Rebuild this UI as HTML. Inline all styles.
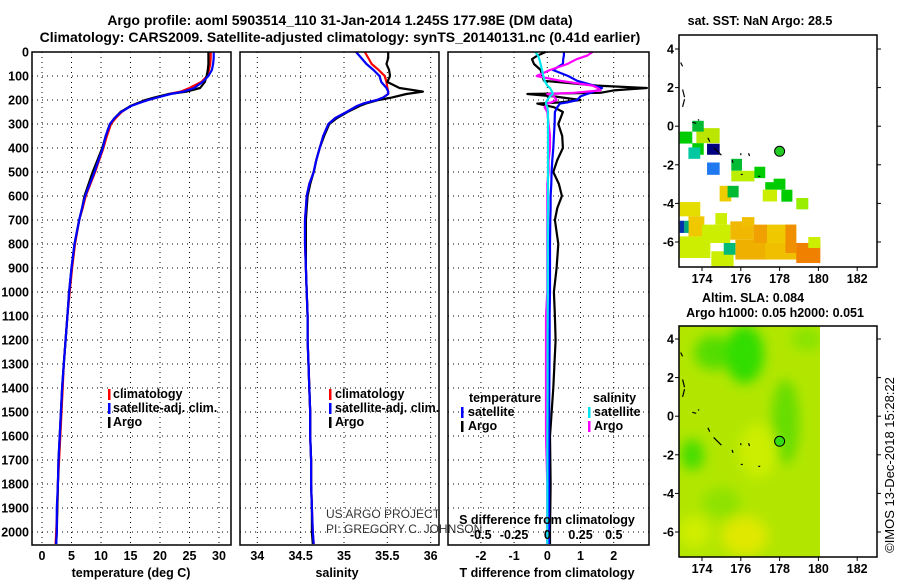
<!DOCTYPE html>
<html><head><meta charset="utf-8"><style>
body{margin:0;background:#fff}
svg{display:block}
text{font-family:"Liberation Sans",sans-serif;fill:#000}
.b{font-weight:bold;font-size:12.5px}
.t{font-weight:bold;font-size:14px}
.n{font-weight:normal}
</style></head><body>
<svg id="fig" width="900" height="580" viewBox="0 0 900 580"></svg>
<script>
// ---- data ----
const depths=[0,25,50,75,100,125,150,165,175,190,200,215,225,250,275,300,350,400,450,500,550,600,650,700,800,900,1000,1100,1200,1300,1400,1500,1600,1700,1800,1900,2000,2050];
const tempArgo=[28.2,28.2,28.2,28.1,27.9,27.6,26.8,24.5,21.5,19,17.5,16,15,13.3,12.3,11.5,10.8,10.2,9.4,8.6,7.9,7.2,6.8,6.3,5.5,5.0,4.6,4.3,4.0,3.7,3.4,3.2,3.0,2.8,2.7,2.6,2.5,2.4];
const tempClim=[28.6,28.6,28.5,28.3,28,27,25,23.5,21.5,19.5,18,16,15,13.5,12.5,11.7,11,10.4,9.7,9,8.2,7.4,6.9,6.3,5.6,5.1,4.7,4.3,4.0,3.7,3.5,3.3,3.1,2.9,2.7,2.6,2.4,2.3];
const tempSat=[29.1,29.1,29.0,28.8,28.2,27.2,25.8,24,21.8,19.5,18,16.2,15.1,13.4,12.3,11.5,10.8,10.3,9.6,8.9,8.1,7.3,6.8,6.3,5.5,5.0,4.6,4.3,4.0,3.7,3.4,3.2,3.0,2.8,2.7,2.5,2.5,2.4];
const salArgo=[35.51,35.51,35.49,35.52,35.53,35.50,35.64,35.91,35.72,35.55,35.40,35.25,35.18,35.04,34.92,34.83,34.77,34.72,34.68,34.65,34.61,34.58,34.57,34.56,34.56,34.56,34.57,34.58,34.58,34.59,34.60,34.61,34.61,34.62,34.62,34.63,34.63,34.64];
const salClim=[35.24,35.28,35.32,35.40,35.47,35.49,35.50,35.51,35.51,35.45,35.38,35.22,35.15,35.03,34.90,34.82,34.76,34.72,34.68,34.65,34.60,34.57,34.56,34.55,34.55,34.56,34.57,34.58,34.58,34.59,34.60,34.61,34.61,34.62,34.62,34.63,34.64,34.65];
const salSat=[35.14,35.20,35.26,35.34,35.41,35.43,35.49,35.51,35.51,35.45,35.38,35.22,35.15,35.03,34.90,34.82,34.76,34.72,34.68,34.65,34.60,34.57,34.56,34.55,34.55,34.56,34.57,34.58,34.58,34.59,34.60,34.61,34.61,34.62,34.62,34.63,34.64,34.65];
const diffDepths=[0,15,30,50,75,100,120,140,150,160,170,175,185,200,210,215,230,250,300,350,400,450,500,550,600,650,700,800,900,1000,1100,1200,1400,1600,1800,2000,2050];
const tDiffArgo=[-0.05,-0.3,-0.46,-0.4,-0.2,-0.15,-0.1,1.5,3.0,2.0,1.6,-0.6,0.2,1.0,0.4,-0.3,0.2,0.47,0.33,0.45,0.47,0.3,0.18,0.35,0.44,0.3,0.23,0.33,0.28,0.2,0.23,0.25,0.18,0.08,0.1,0.08,0.08];
const tDiffSat=[0.5,0.5,0.48,0.47,0.17,0.63,0.9,1.4,1.65,1.5,1.3,1.2,1.0,0.9,0.6,0.38,0.3,0.23,0.22,0.2,0.18,0.15,0.13,0.12,0.1,0.1,0.09,0.08,0.08,0.08,0.07,0.07,0.06,0.05,0.05,0.05,0.05];
const sDiffArgo=[0.34,0.3,0.22,0.15,0.02,-0.08,0.1,0.34,0.38,0.4,0.2,0,0.05,0.07,0.03,0,-0.02,0,0.01,0.02,0.02,0.01,0.01,0,0,0,0,0,0,0,-0.01,-0.01,-0.01,-0.01,0,0,0];
const sDiffSat=[-0.09,-0.07,-0.06,-0.05,-0.04,-0.03,-0.02,0,0.02,0.03,0.04,0.04,0.02,0,-0.01,-0.01,0,0.005,0.005,0.005,0.005,0.005,0.005,0.005,0.005,0.005,0.004,0.004,0.003,0.003,0.003,0.002,0.002,0.001,0.001,0,0];
const depthTicks=[0,100,200,300,400,500,600,700,800,900,1000,1100,1200,1300,1400,1500,1600,1700,1800,1900,2000];
const tempTicks=[0,5,10,15,20,25,30];
const salTicks=[34,34.5,35,35.5,36];
const tDiffTicks=[-2,-1,0,1,2];
const sDiffTicks=[-0.5,-0.25,0,0.25,0.5];
const latTicks=[4,2,0,-2,-4,-6];
const lonTicks=[174,176,178,180,182];
// SST squares [lon1,lat1,lon2,lat2,color]
const sstCells=[
[172.85,-5.71,174.43,-6.83,'#ccee00'],[175.72,-5.88,177.35,-6.91,'#f0b000'],[177.26,-6.05,178.90,-6.91,'#f0c000'],
[174.48,-6.48,175.63,-7.26,'#ccee00'],[175.12,-6.05,175.72,-6.66,'#00bb77'],
[172.85,-0.28,173.50,-0.90,'#00cc00'],[173.71,-0.10,174.91,-0.88,'#bbe600'],[173.50,0.28,174.09,-0.28,'#00bb33'],
[173.50,-0.88,174.09,-1.48,'#00cc00'],[173.30,-1.10,173.91,-1.69,'#00c8a0'],[174.26,-0.91,174.91,-1.48,'#000080'],
[174.26,-1.88,174.91,-2.52,'#1e78f0'],[175.51,-1.69,176.06,-2.31,'#00bb33'],[175.51,-2.31,176.70,-2.86,'#bbee00'],
[176.70,-2.10,177.26,-2.69,'#00cc00'],[177.26,-2.90,177.87,-3.29,'#00cc00'],[177.69,-2.72,178.30,-3.29,'#00cc00'],
[177.13,-3.29,177.87,-3.90,'#ccee00'],[178.09,-3.29,178.66,-3.91,'#00cc00'],[178.86,-3.72,179.48,-4.31,'#99ee00'],
[174.91,-3.09,175.51,-3.90,'#eecc00'],[175.32,-3.09,175.89,-3.69,'#00bb33'],[172.85,-3.93,173.91,-4.67,'#e6dd00'],
[173.30,-4.67,174.12,-5.71,'#f0c800'],[172.85,-4.90,173.09,-5.53,'#0033aa'],[173.09,-4.90,173.31,-5.53,'#00aa77'],
[174.69,-4.50,175.29,-5.10,'#ccee00'],[174.0,-5.10,175.46,-6.05,'#ccee00'],[175.46,-4.93,176.66,-5.88,'#f0b800'],
[176.06,-4.71,176.70,-5.19,'#f0c000'],[176.66,-5.10,177.35,-6.05,'#f0a000'],[177.35,-5.10,178.86,-6.05,'#f0c800'],
[178.30,-5.10,178.86,-6.57,'#f09000'],[178.86,-6.05,180.10,-7.09,'#f08000'],[179.48,-5.74,180.10,-6.31,'#ccee00']];
// SLA blobs [lon,lat,rLon,rLat,color]
const slaBlobs=[[174.6,3.3,1.0,0.9,'#55dd00'],[176.2,3.2,1.0,1.5,'#33dd00'],[178.3,-0.3,0.7,2.2,'#66dd00'],
[173.5,-2.0,0.6,0.8,'#44dd00'],[176.9,-1.8,1.0,1.4,'#ccee00'],[176.2,-6.2,1.2,1.0,'#e0e800'],
[173.6,-6.0,0.8,0.8,'#d0ee00'],[179.4,4.0,0.8,0.6,'#88e400'],[175.0,-4.5,1.0,0.8,'#8fe200']];
// coastline segments [lon1,lat1,lon2,lat2]
const coastSegs=[[172.9,3.3,173.0,3.1],[173.0,1.9,173.1,1.5],[173.1,1.4,173.0,1.0],[173.5,0.2,173.7,0.15],[173.8,0.35,173.85,0.3],
[174.3,-0.6,174.4,-0.8],[174.6,-1.1,175.0,-1.5],[175.55,-1.75,175.6,-1.9],[176.0,-2.5,176.1,-2.5],[176.9,-2.6,177.0,-2.6],[176.0,-1.4,176.0,-1.5],[176.4,-1.4,176.45,-1.55]];

// ---- helpers ----
const NS='http://www.w3.org/2000/svg';const svg=document.getElementById('fig');
function el(tag,attrs,parent){const e=document.createElementNS(NS,tag);for(const k in attrs)e.setAttribute(k,attrs[k]);(parent||svg).appendChild(e);return e;}
function txt(x,y,s,cls,anchor,name){const t=el('text',{x:x,y:y,class:cls||'b','text-anchor':anchor||'middle'});t.textContent=s;

return t;}
const yD=d=>52+d*0.24;
const xT=v=>42+v*5.9;
const xS=v=>257.3+(v-34)*86.7;
const xTD=v=>547.3+v*33.2;
const xSD=v=>547.3+v*133;
function grid(x0,x1,xs,name){
  const g=el('g',{});
  
  
  depthTicks.forEach(d=>el('line',{x1:x0,x2:x1,y1:yD(d),y2:yD(d),stroke:'#000','stroke-width':1,'stroke-dasharray':'1,4'},g));
  xs.forEach(x=>el('line',{x1:x,x2:x,y1:52,y2:545,stroke:'#000','stroke-width':1,'stroke-dasharray':'1,4'},g));
}
function frame(x0,x1,y0,y1,name){const r=el('rect',{x:x0,y:y0,width:x1-x0,height:y1-y0,fill:'none',stroke:'#000','stroke-width':1.5});

}
function line(ds,vals,xf,color,name,w){const p=ds.map((d,i)=>xf(vals[i]).toFixed(1)+','+yD(d).toFixed(1)).join(' ');
const e=el('polyline',{points:p,fill:'none',stroke:color,'stroke-width':w||2.2,'stroke-linejoin':'round'});

}

// titles
txt(340,25,'Argo profile: aoml 5903514_110 31-Jan-2014 1.245S 177.98E (DM data)','t','middle','title-line-1');
txt(340,42,'Climatology: CARS2009. Satellite-adjusted climatology: synTS_20140131.nc (0.41d earlier)','t','middle','title-line-2');

depthTicks.forEach(d=>txt(29,yD(d)+4.5,String(d),'b','end','depth-tick-label'));

// panel 1 temperature
grid(32,231,tempTicks.map(xT),'temperature-grid');
line(depths,tempClim,xT,'#ff0000','temperature-climatology-line');
line(depths,tempArgo,xT,'#000000','temperature-argo-line');
line(depths,tempSat,xT,'#0000ff','temperature-satellite-line');
frame(32,231,52,545,'temperature-panel-frame');
tempTicks.forEach(v=>txt(xT(v),560,String(v),'b','middle','temperature-tick-label'));
txt(131,577,'temperature (deg C)','b','middle','temperature-axis-title');

// panel 2 salinity
grid(240,439,salTicks.map(xS),'salinity-grid');
line(depths,salClim,xS,'#ff0000','salinity-climatology-line');
line(depths,salArgo,xS,'#000000','salinity-argo-line');
line(depths,salSat,xS,'#0000ff','salinity-satellite-line');
frame(240,439,52,545,'salinity-panel-frame');
salTicks.forEach(v=>txt(xS(v),560,String(v),'b','middle','salinity-tick-label'));
txt(337,577,'salinity','b','middle','salinity-axis-title');

[[108,113],[329,335]].forEach(([mx,tx],k)=>{
  [['climatology','#f00'],['satellite-adj. clim.','#00f'],['Argo','#000']].forEach(([s,c],i)=>{
    const y=398+i*14;
    const m=el('rect',{x:mx,y:y-9,width:2.5,height:11,fill:c});
    
    
    txt(tx,y,s,'b','start','legend-entry');
  });
});
const pj=txt(326,518,'US ARGO PROJECT','n','start','project-credit');pj.setAttribute('style','font-size:12px;fill:#333');
const pi=txt(326,533,'PI: GREGORY C. JOHNSON','n','start','pi-credit');pi.setAttribute('style','font-size:12px;fill:#333');

// panel 3 differences
grid(448,649,tDiffTicks.map(xTD),'difference-grid');
line(diffDepths,tDiffArgo,xTD,'#000000','t-difference-argo-line');
line(diffDepths,tDiffSat,xTD,'#0000ff','t-difference-satellite-line');
line(diffDepths,sDiffArgo,xSD,'#ff00ff','s-difference-argo-line');
line(diffDepths,sDiffSat,xSD,'#00e5ee','s-difference-satellite-line');
frame(448,649,52,545,'difference-panel-frame');
tDiffTicks.forEach(v=>txt(xTD(v),560,String(v),'b','middle','t-difference-tick-label'));
sDiffTicks.forEach(v=>txt(xSD(v),539,String(v),'b','middle','s-difference-tick-label'));
txt(547,524,'S difference from climatology','b','middle','s-difference-axis-title');
txt(547,577,'T difference from climatology','b','middle','t-difference-axis-title');
txt(469,402,'temperature','b','start','legend-title-temperature');
txt(593,402,'salinity','b','start','legend-title-salinity');
[['satellite','#00f',461,468],['Argo','#000',461,468],['satellite','#00e5ee',588,594],['Argo','#f0f',588,594]].forEach(([s,c,mx,tx],i)=>{
  const y=416+(i%2)*14;
  const m=el('rect',{x:mx,y:y-9,width:2.5,height:11,fill:c});
  
  
  txt(tx,y,s,'b','start','legend-entry');
});

// maps
const lonX=v=>702+(v-174)*19.4;
const latY1=v=>49+(4-v)*19.3;
const latY2=v=>339+(4-v)*19.3;
function mapAxes(y0,y1,latY,name){
  frame(679,877,y0,y1,name);
  latTicks.forEach(v=>{const y=latY(v);el('line',{x1:679,x2:675,y1:y,y2:y,stroke:'#000'});el('line',{x1:877,x2:881,y1:y,y2:y,stroke:'#000'});
    txt(674,y+4.5,String(v),'b','end','latitude-tick-label');});
  lonTicks.forEach(v=>{const x=lonX(v);el('line',{x1:x,x2:x,y1:y1,y2:y1+4,stroke:'#000'});txt(x,y1+16,String(v),'b','middle','longitude-tick-label');});
}
const clip1=el('clipPath',{id:'c1'});el('rect',{x:679,y:35,width:198,height:232},clip1);
const g1=el('g',{'clip-path':'url(#c1)'});


sstCells.forEach(([a,b,c,d,col])=>{const r=el('rect',{x:lonX(a),y:latY1(b),width:lonX(c)-lonX(a),height:latY1(d)-latY1(b),fill:col},g1);

});
coastSegs.forEach(([a,b,c,d])=>el('line',{x1:lonX(a),y1:latY1(b),x2:lonX(c),y2:latY1(d),stroke:'#000','stroke-width':1.2},g1));
mapAxes(35,267,latY1,'sst-map-frame');
const m1=el('circle',{cx:lonX(178),cy:latY1(-1.3),r:5,fill:'#22cc22',stroke:'#000','stroke-width':1});


txt(760,25,'sat. SST: NaN Argo: 28.5','b','middle','sst-map-title');

const defs=el('defs',{});const f=el('filter',{id:'bl',x:'-50%',y:'-50%',width:'200%',height:'200%'},defs);el('feGaussianBlur',{stdDeviation:6},f);
const clip2=el('clipPath',{id:'c2'},defs);el('rect',{x:679,y:326,width:141,height:231},clip2);
const g2=el('g',{'clip-path':'url(#c2)'});


el('rect',{x:679,y:326,width:141,height:231,fill:'#b2e600'},g2);
const gb=el('g',{filter:'url(#bl)'},g2);
slaBlobs.forEach(([lo,la,rl,ra,col])=>{const e=el('ellipse',{cx:lonX(lo),cy:latY2(la),rx:rl*19.4,ry:ra*19.3,fill:col},gb);

});
coastSegs.forEach(([a,b,c,d])=>el('line',{x1:lonX(a),y1:latY2(b),x2:lonX(c),y2:latY2(d),stroke:'#000','stroke-width':1.2},g2));
mapAxes(326,557,latY2,'sla-map-frame');
const m2=el('circle',{cx:lonX(178),cy:latY2(-1.3),r:5,fill:'#33dd11',stroke:'#000','stroke-width':1});


txt(753,302,'Altim. SLA: 0.084','b','middle','sla-map-title');
txt(775,317,'Argo h1000: 0.05 h2000: 0.051','b','middle','sla-map-subtitle');
const cr=txt(0,0,'©IMOS 13-Dec-2018 15:28:22','n','middle','copyright-timestamp');
cr.setAttribute('style','font-size:13px');cr.setAttribute('transform','translate(894,465) rotate(-90)');
</script>
</body></html>
